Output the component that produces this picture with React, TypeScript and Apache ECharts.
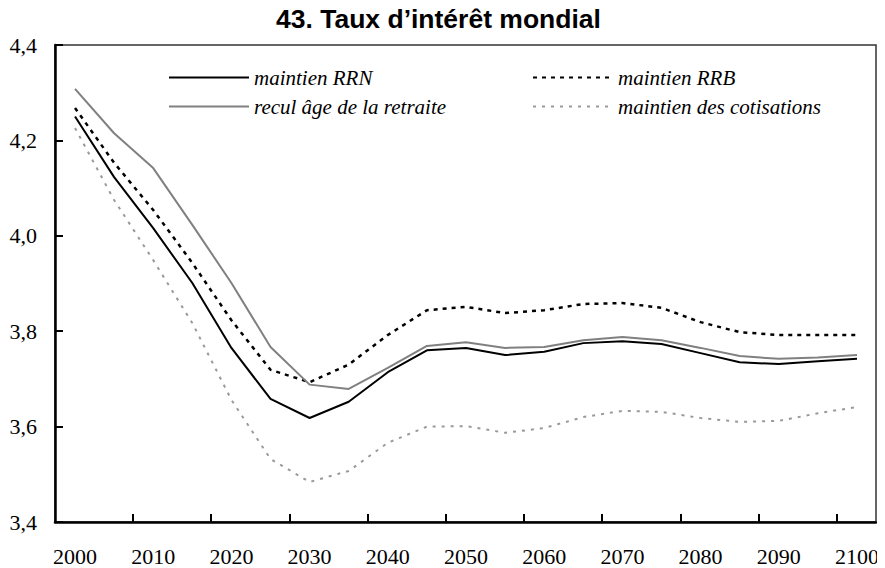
import React, { useEffect, useRef } from "react";
import * as echarts from "echarts";

const years = [2000, 2005, 2010, 2015, 2020, 2025, 2030, 2035, 2040, 2045, 2050, 2055, 2060, 2065, 2070, 2075, 2080, 2085, 2090, 2095, 2100];
const xLabelValues = [2000, 2010, 2020, 2030, 2040, 2050, 2060, 2070, 2080, 2090, 2100];
const xTickValues = [2007.4, 2017.4, 2027.4, 2037.4, 2047.4, 2057.4, 2067.4, 2077.4, 2087.4, 2097.4];

const rrn = [4.25, 4.123, 4.016, 3.901, 3.765, 3.658, 3.618, 3.652, 3.714, 3.76, 3.765, 3.75, 3.757, 3.775, 3.779, 3.773, 3.754, 3.735, 3.731, 3.737, 3.742];
const rrb = [4.268, 4.153, 4.054, 3.943, 3.823, 3.719, 3.693, 3.73, 3.792, 3.844, 3.851, 3.838, 3.844, 3.857, 3.859, 3.849, 3.819, 3.798, 3.792, 3.792, 3.792];
const recul = [4.308, 4.215, 4.142, 4.023, 3.901, 3.767, 3.688, 3.679, 3.723, 3.769, 3.777, 3.765, 3.767, 3.781, 3.788, 3.781, 3.765, 3.748, 3.742, 3.745, 3.75];
const cotis = [4.226, 4.075, 3.949, 3.817, 3.656, 3.532, 3.484, 3.507, 3.566, 3.6, 3.601, 3.587, 3.597, 3.62, 3.633, 3.631, 3.618, 3.61, 3.612, 3.628, 3.641];

const names = ["maintien RRN", "maintien RRB", "recul âge de la retraite", "maintien des cotisations"];
const titleText = "43. Taux d’intérêt mondial";

const pairs = (vals: number[]) => years.map((y, i) => [y, vals[i]]);

const serif = "Liberation Serif";

export default function App() {
  const ref = useRef<HTMLDivElement>(null);
  useEffect(() => {
    if (!ref.current) return;
    const chart = echarts.init(ref.current, null, { renderer: "svg" });
    const mkLegend = (name: string, left: number, top: number) => ({
      data: [name],
      left,
      top,
      itemWidth: 80,
      itemHeight: 14,
      itemStyle: { opacity: 0 },
      textStyle: { fontFamily: serif, fontSize: 21, fontStyle: "italic", color: "#000" },
      selectedMode: false,
    });
    chart.setOption({
      animation: false,
      legend: [
        mkLegend(names[0], 163, 62),
        mkLegend(names[1], 527, 62),
        mkLegend(names[2], 163, 91),
        mkLegend(names[3], 527, 91),
      ],
      grid: {
        left: 55,
        right: 9,
        top: 45,
        bottom: 46,
        show: true,
        borderColor: "#333",
        borderWidth: 1.5,
      },
      xAxis: {
        type: "value",
        min: 1997.44,
        max: 2102.43,
        axisLine: { show: true, lineStyle: { color: "#000", width: 2.5 } },
        axisTick: { show: true, inside: true, length: 8, lineStyle: { color: "#000", width: 2 }, customValues: xTickValues },
        axisLabel: {
          customValues: xLabelValues,
          formatter: (v: number) => String(Math.round(v)),
          fontFamily: serif,
          fontSize: 22,
          color: "#000",
          margin: 23,
        },
        splitLine: { show: false },
      },
      yAxis: {
        type: "value",
        min: 3.4,
        max: 4.4,
        interval: 0.2,
        axisLine: { show: true, lineStyle: { color: "#000", width: 2.5 } },
        axisTick: { show: true, inside: true, length: 8, lineStyle: { color: "#000", width: 2 } },
        axisLabel: {
          formatter: (v: number) => v.toFixed(1).replace(".", ","),
          fontFamily: serif,
          fontSize: 22,
          color: "#000",
          margin: 18,
        },
        splitLine: { show: false },
      },
      series: [
        {
          name: names[0],
          type: "line",
          data: pairs(rrn),
          symbol: "none",
          lineStyle: { color: "#000", width: 2 },
          itemStyle: { color: "#000" },
        },
        {
          name: names[1],
          type: "line",
          data: pairs(rrb),
          symbol: "none",
          lineStyle: { color: "#000", width: 2.5, type: [4, 5] },
          itemStyle: { color: "#000" },
        },
        {
          name: names[2],
          type: "line",
          data: pairs(recul),
          symbol: "none",
          lineStyle: { color: "#808080", width: 2 },
          itemStyle: { color: "#808080" },
        },
        {
          name: names[3],
          type: "line",
          data: pairs(cotis),
          symbol: "none",
          lineStyle: { color: "#999", width: 2, type: [3, 6] },
          itemStyle: { color: "#999" },
        },
      ],
      graphic: [
        {
          type: "text",
          left: 276,
          top: 5,
          style: { text: titleText, fontFamily: "Liberation Sans", fontWeight: "bold", fontSize: 26.5, fill: "#000" },
        },
      ],
    });
    return () => chart.dispose();
  }, []);
  return <div ref={ref} style={{ width: 885, height: 568, margin: "-8px 0 0 -8px", background: "#fff" }} />;
}
